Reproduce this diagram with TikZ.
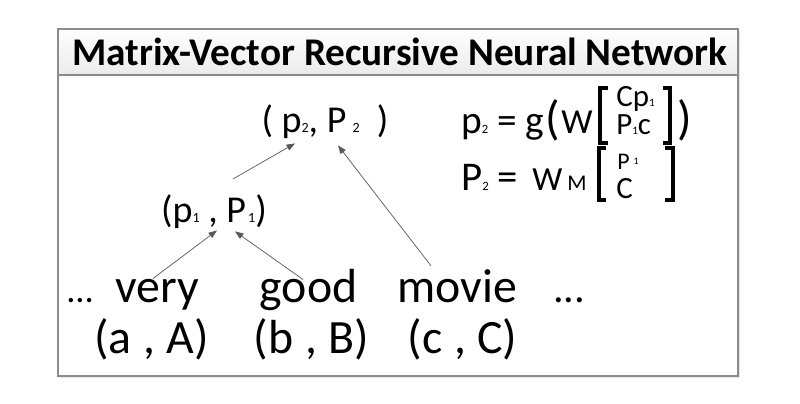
\documentclass[tikz,border=0pt]{standalone}
\usepackage{fontspec}
\setmainfont{Carlito}
\usetikzlibrary{arrows.meta,calc}
\newcommand{\lowdigit}[2][9]{{\fontsize{#1}{#1}\selectfont #2}}

\begin{document}
\begin{tikzpicture}[x=0.025cm,y=-0.025cm,
    word/.style={anchor=base,inner sep=0pt,font=\fontsize{34}{38}\selectfont},
    pair/.style={anchor=base,inner sep=0pt,font=\fontsize{27}{30}\selectfont},
    eq/.style={anchor=base west,inner sep=0pt},
    link/.style={draw=black!65,line width=0.5pt,-{Triangle[length=6pt,width=4.5pt]}},
    brk/.style={line width=2.6pt,line join=miter}]
    \useasboundingbox (0,0) rectangle (800,403);
    %frame
    \fill[black!10] (60,31) rectangle (740,378);
    \shade[top color=white,bottom color=black!8] (58,29) rectangle (738,75);
    \fill[white] (58,75) rectangle (738,376);
    \draw[black!45,line width=1pt] (58,29) rectangle (738,376);
    \draw[black!45,line width=0.8pt] (58,75) -- (738,75);
    %title
    \node[inner sep=0pt,font=\bfseries\fontsize{27.9}{32}\selectfont] (title) at (400,52) {Matrix-Vector Recursive Neural Network};

    %words
    \node[word,anchor=base west,font=\fontsize{26}{30}\selectfont] (dotsL) at (66,302) {...};
    \node[word] (very) at (157.5,302) {very};
    \node[word] (good) at (308.5,302) {good};
    \node[word] (movie) at (457.5,302) {movie};
    \node[word,font=\fontsize{30}{34}\selectfont] (dotsR) at (569,302) {...};
    %pairs
    \node[word] (vecA) at (151.5,353) {(a\kern1pt{} , A)};
    \node[word] (vecB) at (311.5,353) {(b\kern1pt{} , B)};
    \node[word] (vecC) at (462.5,353) {(c\kern1pt{} , C)};

    %tree
    \node[pair] (p1) at (214,222) {(p\lowdigit[10]{1} , P\kern1.5pt\lowdigit[10]{1})};
    \node[pair] (p2) at (325,132) {( p\lowdigit[10]{2}, P\,\lowdigit[10]{2}\ \ )};
    \draw[link] ($(very.north)+(-4.5,0)$) -- ($(p1.south)+(3,2)$);
    \draw[link] ($(good.north)+(-5.5,11)$) -- ($(p1.south)+(21,3)$);
    \draw[link] ($(p1.north)+(19,-15)$) -- ($(p2.south)+(-30,5)$);
    \draw[link] ($(movie.north)+(-26.5,-3)$) -- ($(p2.south)+(13,7)$);

    %formula p2
    \node[eq,font=\fontsize{28}{30}\selectfont] (lhsA) at (461,133) {p\lowdigit{2} = g};
    \node[inner sep=0pt,font=\fontsize{34}{34}\selectfont] (lparA) at (553,120) {(};
    \node[eq,font=\fontsize{25}{26}\selectfont] (wA) at (561,133) {W};
    \draw[brk] (608,88) -- (600,88) -- (600,143) -- (608,143);
    \node[eq,font=\fontsize{22}{22}\selectfont] (topA) at (616,106) {Cp\lowdigit[8]{1}};
    \node[eq,font=\fontsize{22}{22}\selectfont] (botA) at (616,134) {P\lowdigit[8]{1}c};
    \draw[brk] (663,88) -- (670,88) -- (670,143) -- (663,143);
    \node[inner sep=0pt,font=\fontsize{34}{34}\selectfont] (rparA) at (685,120) {)};

    %formula P2
    \node[eq,font=\fontsize{29}{30}\selectfont] (lhsB) at (461,190) {P\lowdigit{2} =};
    \node[eq,font=\fontsize{24}{26}\selectfont] (wB) at (532,190) {W};
    \node[eq,font=\fontsize{16}{16}\selectfont] (mB) at (567,190) {M};
    \draw[brk] (606,148) -- (599,148) -- (599,200) -- (606,200);
    \node[eq,font=\fontsize{17}{18}\selectfont] (topB) at (617,169) {P\,\raisebox{3pt}{\lowdigit[7]{1}}};
    \node[eq,font=\fontsize{22}{24}\selectfont] (botB) at (616,198) {C};
    \draw[brk] (665,148) -- (673,148) -- (673,200) -- (665,200);
\end{tikzpicture}
\end{document}
